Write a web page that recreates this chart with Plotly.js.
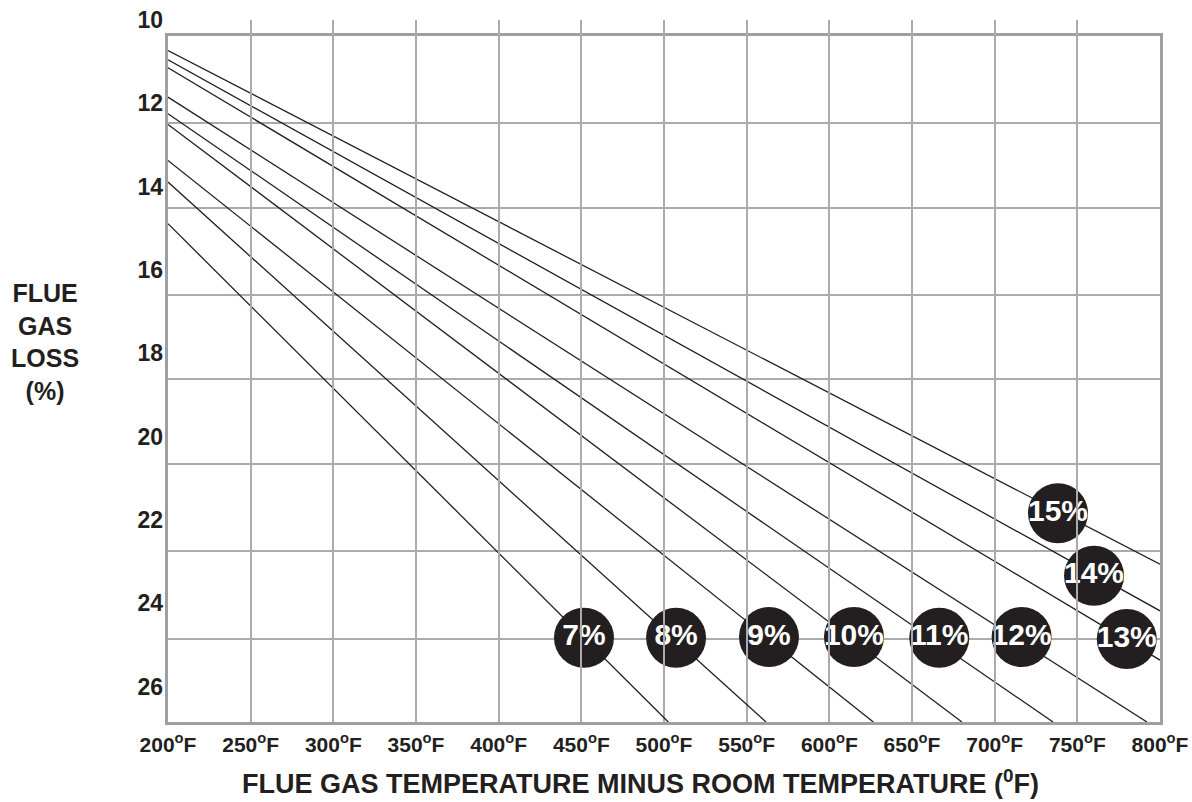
<!DOCTYPE html>
<html>
<head>
<meta charset="utf-8">
<script src="https://cdn.plot.ly/plotly-3.0.1.min.js"></script>
<style>
html,body{margin:0;padding:0;background:#fff;}
#chart{width:1192px;height:802px;}
</style>
</head>
<body>
<div id="chart"></div>
<script>
// ---- data ----
const seriesLabels = ["7%", "8%", "9%", "10%", "11%", "12%", "13%", "14%", "15%"];
const lineStartX = [200, 200, 200, 200, 200, 200, 200, 200, 200];
const lineStartY = [14.889, 13.891, 13.370, 12.507, 12.250, 11.852, 11.147, 10.955, 10.732];
const lineEndX = [502.6, 561.7, 626.6, 680.2, 735.3, 792.1, 800, 800, 800];
const lineEndY = [26.85, 26.85, 26.85, 26.85, 26.85, 26.85, 25.364, 24.182, 23.062];
const badgeX = [451.6, 507.3, 563.5, 614.9, 666.5, 716.3, 779.9, 760.1, 738.3];
const badgeY = [24.83, 24.83, 24.81, 24.81, 24.83, 24.81, 24.86, 23.34, 21.84];

const xTickVals = [200, 250, 300, 350, 400, 450, 500, 550, 600, 650, 700, 750, 800];
const xTickText = xTickVals.map(v => v + "<sup>o</sup>F");
const yLabelVals = [10, 12, 14, 16, 18, 20, 22, 24, 26];
const yGridVals = [12.48, 14.52, 16.61, 18.62, 20.66, 22.75, 24.86];
const yRange = [26.85, 10.396];

const INK = "#231f20";
const GRID = "#a9abae";
const FRAME = "#9d9fa2";
const FONT = "Liberation Sans, Arial, Helvetica, sans-serif";

const traces = [];
for (let i = 0; i < seriesLabels.length; i++) {
  traces.push({
    type: "scatter", mode: "lines",
    x: [lineStartX[i], lineEndX[i]],
    y: [lineStartY[i], lineEndY[i]],
    line: {color: INK, width: 1.3},
    hoverinfo: "skip", showlegend: false, name: seriesLabels[i]
  });
}
traces.push({
  type: "scatter", mode: "markers+text",
  x: badgeX, y: badgeY, text: seriesLabels,
  textposition: "middle center",
  textfont: {family: FONT, size: 30, color: "#ffffff", weight: 700},
  marker: {size: 60, color: INK, line: {width: 0}},
  cliponaxis: false, hoverinfo: "skip", showlegend: false
});
// invisible carrier so the label axis (y2) gets drawn
traces.push({
  type: "scatter", mode: "markers",
  x: [xTickVals[0]], y: [yLabelVals[0]], yaxis: "y2",
  marker: {size: 1, opacity: 0}, hoverinfo: "skip", showlegend: false
});

const H = 802, T = 19.5, B = 80;
const paperH = H - T - B;           // 702.5
const plotTopPx = 36, plotBotPx = 722, labTopPx = 19.5, labBotPx = 686.5;
const yDomTop = (plotBotPx - plotTopPx) / paperH;
const y2DomBot = (plotBotPx - labBotPx) / paperH;

const layout = {
  width: 1192, height: 802,
  margin: {l: 168, r: 32, t: T, b: B, pad: 0},
  paper_bgcolor: "#ffffff",
  plot_bgcolor: "rgba(0,0,0,0)",
  showlegend: false,
  font: {family: FONT, color: INK},
  xaxis: {
    range: [200, 800], domain: [0, 1],
    tickvals: xTickVals, ticktext: xTickText,
    ticks: "", ticklabelstandoff: 2,
    tickfont: {family: FONT, size: 21, color: INK, weight: 700},
    showgrid: true, gridcolor: GRID, gridwidth: 1.8,
    zeroline: false,
    showline: true, linecolor: FRAME, linewidth: 3, mirror: true,
    fixedrange: true
  },
  yaxis: {
    range: yRange, domain: [0, yDomTop],
    tickvals: yGridVals, showticklabels: false, ticks: "",
    showgrid: true, gridcolor: GRID, gridwidth: 1.8,
    zeroline: false,
    showline: true, linecolor: FRAME, linewidth: 3, mirror: true,
    fixedrange: true
  },
  yaxis2: {
    range: [26, 10], domain: [y2DomBot, 1], anchor: "x",
    tickmode: "array",
    tickvals: yLabelVals, ticktext: yLabelVals.map(String),
    ticks: "", ticklabelstandoff: 4,
    tickfont: {family: FONT, size: 23, color: INK, weight: 700},
    showgrid: false, zeroline: false, showline: false,
    fixedrange: true
  },
  annotations: [
    {
      xref: "paper", yref: "paper",
      x: (45 - 168) / 992, y: (722 - 342) / paperH,
      xanchor: "center", yanchor: "middle", align: "center", showarrow: false,
      text: "FLUE<br>GAS<br>LOSS<br>(%)",
      font: {family: FONT, size: 25, color: INK, weight: 700}
    },
    {
      xref: "paper", yref: "paper",
      x: (640 - 168) / 992, y: (722 - 782) / paperH,
      xanchor: "center", yanchor: "middle", showarrow: false,
      text: "FLUE GAS TEMPERATURE MINUS ROOM TEMPERATURE (<sup>0</sup>F)",
      font: {family: FONT, size: 27, color: INK, weight: 700}
    }
  ]
};

Plotly.newPlot("chart", traces, layout, {displayModeBar: false, staticPlot: true});
</script>
</body>
</html>
